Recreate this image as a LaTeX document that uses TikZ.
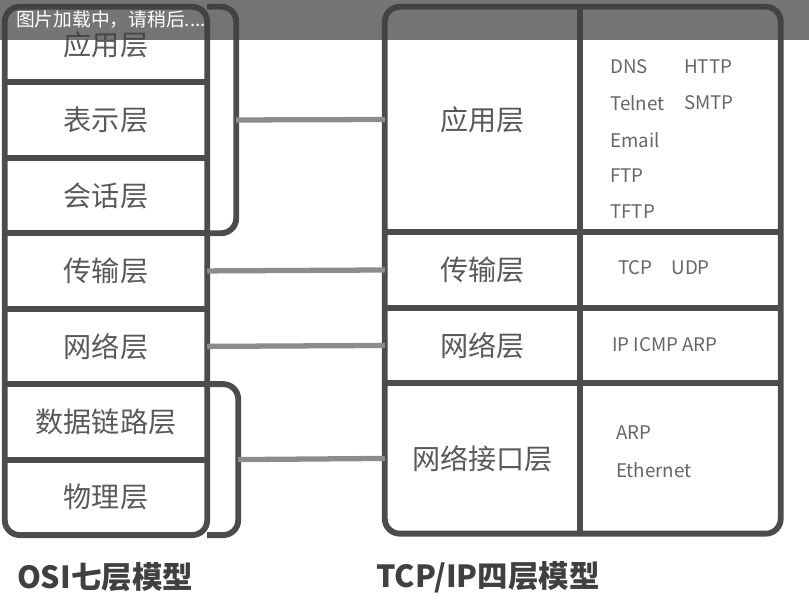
\documentclass[tikz,border=0pt]{standalone}
\usepackage{fontspec}
\setmainfont{Noto Sans CJK SC}
\usetikzlibrary{calc, positioning, fit}

\begin{document}
\begin{tikzpicture}[
			x=0.03cm, y=-0.03cm,
			layer/.style={minimum width=6.06cm, minimum height=2.25cm, inner sep=0pt, text=black!65, font=\fontsize{24}{28}\selectfont},
			tcplayer/.style={layer, minimum width=5.85cm},
			protobox/.style={minimum width=6cm, inner sep=0pt},
			proto/.style={anchor=west, inner sep=0pt, text=black!60, font=\fontsize{16}{19}\selectfont},
			frame/.style={draw=black!70, line width=5pt, rounded corners=4.5mm, inner sep=0pt},
			sep/.style={draw=black!70, line width=5pt},
			link/.style={draw=black!45, line width=4.5pt},
			caption/.style={text=black!75, font=\fontsize{26}{30}\selectfont\bfseries},
			]
			\useasboundingbox (0,0) rectangle (809,604);
			
			% OSI-Schichten
			\node[layer] (app) at (106,44.5) {应用层};
			\node[layer, below=0pt of app] (pres) {表示层};
			\node[layer, below=0pt of pres] (sess) {会话层};
			\node[layer, below=0pt of sess] (trans) {传输层};
			\node[layer, below=0pt of trans] (net) {网络层};
			\node[layer, below=0pt of net] (dlink) {数据链路层};
			\node[layer, below=0pt of dlink] (phys) {物理层};
			\node[frame, fit=(app)(phys)] (osiFrame) {};
			\foreach \a in {app,pres,sess,trans,net,dlink}
				\draw[sep] (\a.south west) -- (\a.south east);
			
			% Klammern
			\draw[sep, rounded corners=4.5mm] (app.north east) -- ($(app.north east)+(29,0)$) -- ($(sess.south east)+(29,0)$) -- (sess.south east);
			\draw[sep, rounded corners=4.5mm] (dlink.north east) -- ($(dlink.north east)+(31,0)$) -- ($(phys.south east)+(31,0)$) -- (phys.south east);
			\coordinate (bUp) at ($(pres.east)+(29,0)$);
			\coordinate (bLow) at ($(dlink.south east)+(31,0)$);
			
			% TCP/IP-Schichten
			\node[tcplayer, minimum height=6.75cm] (tApp) at (482.5,119.5) {应用层};
			\node[tcplayer, below=0pt of tApp] (tTrans) {传输层};
			\node[tcplayer, below=0pt of tTrans] (tNet) {网络层};
			\node[tcplayer, minimum height=4.5cm, below=0pt of tNet] (tLink) {网络接口层};
			\node[protobox, minimum height=6.75cm, right=0pt of tApp] (pApp) {};
			\node[protobox, minimum height=2.25cm, right=0pt of tTrans] (pTrans) {};
			\node[protobox, minimum height=2.25cm, right=0pt of tNet] (pNet) {};
			\node[protobox, minimum height=4.5cm, right=0pt of tLink] (pLink) {};
			\node[frame, fit=(tApp)(pLink)] (tcpFrame) {};
			\foreach \a/\b in {tApp/pApp,tTrans/pTrans,tNet/pNet}
				\draw[sep] (\a.south west) -- (\b.south east);
			\draw[sep] (tApp.north east) -- (tLink.south east);
			
			% Protokolle
			\node[proto] (dns) at (610,67) {DNS};
			\node[proto] (http) at (684,67) {HTTP};
			\node[proto] (telnet) at (610,103) {Telnet};
			\node[proto] (smtp) at (684,103) {SMTP};
			\node[proto] (email) at (610,140) {Email};
			\node[proto] (ftp) at (610,176) {FTP};
			\node[proto] (tftp) at (610,212) {TFTP};
			\node[proto] (tcpudp) at (618,268) {TCP\quad UDP};
			\node[proto] (ipicmp) at (612,345) {IP\ ICMP\ ARP};
			\node[proto] (arp) at (616,433) {ARP};
			\node[proto] (eth) at (616,470) {Ethernet};
			
			% Verbindungen
			\path[link]
			(bUp) edge (tApp.west)
			(trans.east) edge (tTrans.west)
			(net.east) edge (tNet.west)
			(bLow) edge (tLink.west)
			;
			
			% Beschriftung
			\node[caption] (osiCap) at (105,577) {OSI七层模型};
			\node[caption] (tcpCap) at (488,577) {TCP/IP四层模型};
			
			% Ladebalken
			\fill[black!75, fill opacity=0.72] (0,0) rectangle (809,40);
			\node[anchor=west, text=white, font=\fontsize{16}{19}\selectfont] (hint) at (12,20) {图片加载中，请稍后....};
			
		\end{tikzpicture}
\end{document}
